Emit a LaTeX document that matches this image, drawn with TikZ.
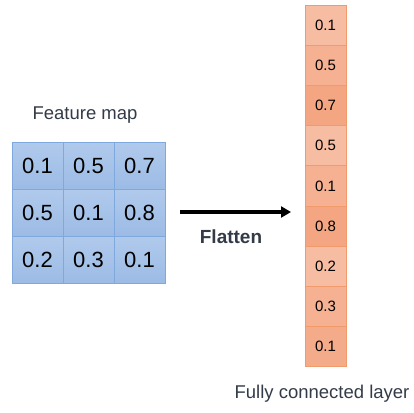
\documentclass[tikz,border=0pt]{standalone}
\usepackage{fontspec}
\setmainfont{Liberation Sans}
\usetikzlibrary{arrows.meta}
\definecolor{txt}{HTML}{333B48}
\definecolor{bluetop}{HTML}{B0CAEC}
\definecolor{bluebot}{HTML}{9CBBE5}
\definecolor{blueline}{HTML}{7FA8DC}
\definecolor{orline}{HTML}{F19A6C}
\definecolor{orA}{HTML}{F6BDA2}
\definecolor{orB}{HTML}{F5B192}
\definecolor{orC}{HTML}{F4A682}
\tikzset{
  gridcell/.style={rectangle,draw=blueline,line width=0.8pt,top color=bluetop,bottom color=bluebot,
    minimum width=51pt,minimum height=47pt,inner sep=0pt,text=black,font=\fontsize{22}{22}\selectfont},
  fccell/.style={rectangle,draw=orline,line width=0.8pt,
    minimum width=41pt,minimum height=40.2pt,inner sep=0pt,text=black,font=\fontsize{15}{15}\selectfont},
  lbl/.style={text=txt,inner sep=0pt}
}
\begin{document}
\begin{tikzpicture}[x=1pt,y=-1pt]
  \useasboundingbox (0,0) rectangle (414,412);
  % feature map
  \foreach \val [count=\i from 0] in {0.1,0.5,0.7,0.5,0.1,0.8,0.2,0.3,0.1} {
    \pgfmathtruncatemacro{\col}{mod(\i,3)}
    \pgfmathtruncatemacro{\row}{div(\i,3)}
    \node[gridcell] (g\i) at (37.5+51*\col,165.5+47*\row) {\val};
  }
  \node[lbl,font=\fontsize{18.5}{18.5}\selectfont] (fmap) at (85,115) {Feature map};
  % fully connected layer
  \foreach \val/\shade [count=\i from 0] in {0.1/orA,0.5/orB,0.7/orC,0.5/orA,0.1/orB,0.8/orC,0.2/orA,0.3/orB,0.1/orB!50!orC} {
    \node[fccell,fill=\shade] (f\i) at (325.5,25.1+40.2*\i) {\val};
  }
  \node[lbl,font=\fontsize{18.5}{18.5}\selectfont] (fclbl) at (322,394) {Fully connected layer};
  % arrow
  \coordinate (a1) at (180,212);
  \coordinate (a2) at (291,212);
  \draw[line width=3.2pt,-{Triangle[length=10pt,width=11pt]}] (a1) -- (a2);
  \node[lbl,font=\bfseries\fontsize{19}{19}\selectfont] (flat) at (231,237) {Flatten};
\end{tikzpicture}
\end{document}
